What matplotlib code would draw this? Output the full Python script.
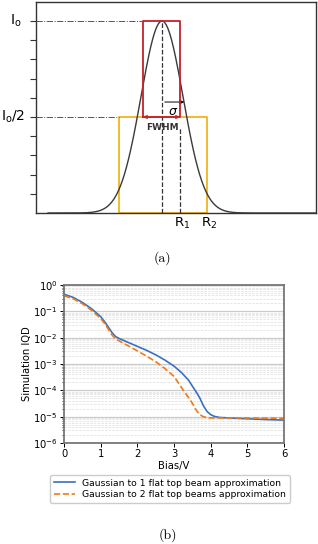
import matplotlib.pyplot as plt
import numpy as np

plt.rcParams['mathtext.fontset'] = 'dejavusans'

# Panel (a): schematic gaussian vs flat-top boxes (x in px-like units, centre at 0)
gauss_sigma = 21.0
gauss_x_start = -114
a_xlim = (-126, 154)
red_box = (-19, 18, 0.5, 1.0)      # x0, x1, y0, y1
yellow_box = (-43, 45, 0.0, 0.5)
r1_x = 18
r2_x = 45
sigma_end = 25

# Panel (b): simulated IQD vs bias (log10 values)
bias_1 = [0.0, 0.25, 0.5, 0.75, 1.0, 1.1, 1.2, 1.3, 1.4, 1.5, 1.75, 2.0, 2.25, 2.5, 2.75,
          3.0, 3.2, 3.4, 3.5, 3.6, 3.7, 3.75, 3.8, 3.9, 4.0, 4.1, 4.25, 4.5, 5.0, 5.5, 6.0]
log_iqd_1 = [-0.35, -0.47, -0.66, -0.90, -1.20, -1.38, -1.58, -1.79, -1.95, -2.03, -2.18,
             -2.33, -2.48, -2.65, -2.85, -3.08, -3.32, -3.62, -3.84, -4.05, -4.28, -4.43,
             -4.58, -4.80, -4.92, -4.99, -5.03, -5.05, -5.08, -5.11, -5.13]
bias_2 = [0.0, 0.25, 0.5, 0.75, 1.0, 1.1, 1.2, 1.3, 1.4, 1.5, 1.75, 2.0, 2.25, 2.5, 2.75,
          3.0, 3.25, 3.4, 3.5, 3.6, 3.7, 3.8, 3.9, 4.0, 4.25, 5.0, 6.0]
log_iqd_2 = [-0.41, -0.52, -0.71, -0.96, -1.27, -1.45, -1.66, -1.88, -2.04, -2.12, -2.31,
             -2.50, -2.70, -2.91, -3.17, -3.47, -3.99, -4.28, -4.49, -4.74, -4.92, -5.00,
             -5.03, -5.05, -5.05, -5.05, -5.06]

fig = plt.figure(figsize=(3.18, 5.44), dpi=100)

# ---------- (a) ----------
axa = fig.add_axes([36/318, 1-213/544, 280/318, 211/544])
xg = np.linspace(gauss_x_start, a_xlim[1], 400)
axa.plot(xg, np.exp(-xg**2/(2*gauss_sigma**2)), color='#3a3a3a', lw=1.0, zorder=3)

x0, x1, y0, y1 = red_box
axa.plot([x0, x0, x1, x1, x0], [y0, y1, y1, y0, y0], color='#c8202a', lw=1.3, zorder=4)
x0, x1, y0, y1 = yellow_box
axa.plot([x0, x0, x1, x1, x0], [y0, y1, y1, y0, y0], color='#f0b51e', lw=1.3, zorder=2)

axa.plot([a_xlim[0], red_box[0]], [1, 1], color='#555555', lw=0.7, ls='-.')
axa.plot([a_xlim[0], yellow_box[0]], [0.5, 0.5], color='#555555', lw=0.7, ls='-.')
axa.plot([0, 0], [0, 1], color='#333333', lw=0.9, ls='--')
axa.plot([r1_x, r1_x], [0, 0.45], color='#333333', lw=0.9, ls='--')

axa.annotate('', xy=(sigma_end, 0.578), xytext=(0, 0.578),
             arrowprops=dict(arrowstyle='-|>', color='black', lw=0.7, mutation_scale=6))
axa.annotate('', xy=(red_box[0]-3, 0.5), xytext=(red_box[1]+3, 0.5),
             arrowprops=dict(arrowstyle='<|-|>', color='#d05030', lw=0.8, mutation_scale=6))
axa.text(11, 0.53, r'$\sigma$', fontsize=9, ha='center', va='center')
axa.text(0, 0.445, 'FWHM', fontsize=6.5, fontweight='bold', ha='center', va='center', color='#333333')

axa.set_xlim(*a_xlim)
axa.set_ylim(0, 1.099)
axa.set_yticks(np.arange(0.1, 1.01, 0.1))
axa.set_yticklabels([])
axa.set_xticks([])
axa.tick_params(axis='y', direction='out', length=4, width=0.8, color='#333333')
for s in axa.spines.values():
    s.set_color('#333333')
    s.set_linewidth(1.0)

fig.text(16/318, 1-21/544, r'I$_\mathrm{o}$', fontsize=10, ha='center', va='center')
fig.text(13/318, 1-117/544, r'I$_\mathrm{o}$/2', fontsize=10, ha='center', va='center')
fig.text(182/318, 1-223/544, r'R$_1$', fontsize=9.5, ha='center', va='center')
fig.text(209/318, 1-223/544, r'R$_2$', fontsize=9.5, ha='center', va='center')
fig.text(162/318, 1-258/544, '(a)', fontsize=10, family='cmr10', ha='center', va='center')

# ---------- (b) ----------
axb = fig.add_axes([64/318, 1-443/544, 220/318, 158/544])
axb.plot(bias_1, 10**np.array(log_iqd_1), color='#3a70c0', lw=1.2,
         label='Gaussian to 1 flat top beam approximation')
axb.plot(bias_2, 10**np.array(log_iqd_2), color='#f07a1a', lw=1.2, ls='--',
         label='Gaussian to 2 flat top beams approximation')
axb.set_yscale('log')
axb.set_xlim(0, 6)
axb.set_ylim(1e-6, 1)
axb.set_xticks(range(7))
axb.grid(True, which='major', axis='y', color='#cccccc', lw=0.9)
axb.grid(True, which='minor', axis='y', color='#dddddd', lw=0.5, ls='--')
axb.set_axisbelow(True)
axb.tick_params(labelsize=7.2, length=3, width=0.7, pad=1.5)
axb.tick_params(which='minor', length=1.5, width=0.5)
axb.set_xlabel('Bias/V', fontsize=7.2, labelpad=1)
axb.set_ylabel('Simulation IQD', fontsize=7.2, labelpad=1)
for s in axb.spines.values():
    s.set_color('#777777')
    s.set_linewidth(1.3)

fig.legend(loc='center', bbox_to_anchor=(170/318, 1-489/544), fontsize=6.7,
           handlelength=2.2, borderpad=0.4, labelspacing=0.3, framealpha=1, edgecolor='#cccccc')
fig.text(168/318, 1-535/544, '(b)', fontsize=10, family='cmr10', ha='center', va='center')

fig.savefig('out.png', dpi=100)
